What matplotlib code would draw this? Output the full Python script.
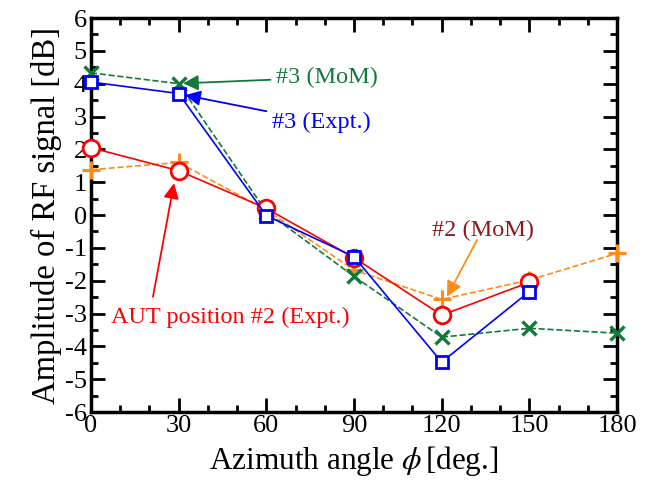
import numpy as np
import matplotlib
matplotlib.use("Agg")
import matplotlib.pyplot as plt
from matplotlib.ticker import MultipleLocator

plt.rcParams['font.family'] = ['Liberation Serif', 'DejaVu Serif']
plt.rcParams['mathtext.fontset'] = 'stix'
plt.rcParams['axes.unicode_minus'] = False

phi = [0, 30, 60, 90, 120, 150, 180]
expt2 = [2.05, 1.35, 0.2, -1.3, -3.05, -2.05]
mom2 = [1.38, 1.6, 0.15, -1.68, -2.57, -1.98, -1.17]
expt3 = [4.05, 3.7, -0.02, -1.27, -4.48, -2.33]
mom3 = [4.33, 4.0, 0.1, -1.87, -3.72, -3.45, -3.6]

red = '#ff0000'
blue = '#0000ff'
green = '#117a3a'
orange = '#ff8c1a'

fig = plt.figure(figsize=(6.53, 4.87), dpi=100)
ax = fig.add_axes([0.1394, 0.154, 0.8055, 0.809])

ax.plot(phi, mom2, '--', color=orange, lw=1.2, marker='+', ms=13, mew=2.2, clip_on=False, zorder=3)
ax.plot(phi, mom3, '--', color=green, lw=1.2, marker='x', ms=10, mew=2.4, clip_on=False, zorder=3)
ax.plot(phi[:6], expt2, '-', color=red, lw=1.2, marker='o', ms=12, mfc='white', mew=2, clip_on=False, zorder=4)
ax.plot(phi[:6], expt3, '-', color=blue, lw=1.2, marker='s', ms=8, mfc='white', mew=2, clip_on=False, zorder=5)

ax.set_xlim(0, 180)
ax.set_ylim(-6, 6)
ax.xaxis.set_major_locator(MultipleLocator(30))
ax.xaxis.set_minor_locator(MultipleLocator(10))
ax.yaxis.set_major_locator(MultipleLocator(1))
ax.yaxis.set_minor_locator(MultipleLocator(0.5))
ax.tick_params(which='both', direction='in', top=True, right=True, width=2, labelsize=19)
ax.tick_params(which='major', length=10)
ax.tick_params(which='minor', length=5)
ax.tick_params(axis='x', pad=2)
ax.tick_params(axis='y', pad=3)
for s in ax.spines.values():
    s.set_linewidth(2.5)

ax.set_xlabel(r'Azimuth angle $\phi\,$[deg.]', fontsize=22.5, labelpad=5)
ax.set_ylabel('Amplitude of RF signal [dB]', fontsize=23.5, labelpad=2)

arr = dict(arrowstyle='-|>', mutation_scale=23, lw=1.3, shrinkA=0, shrinkB=0)
ax.annotate('#3 (MoM)', xy=(31.5, 4.01), xytext=(63.3, 4.19), color=green, fontsize=17.5,
            va='center', ha='left', arrowprops=dict(arr, color=green, shrinkA=2))
ax.annotate('#3 (Expt.)', xy=(32.2, 3.65), xytext=(61.9, 2.83), color=blue, fontsize=17.5,
            va='center', ha='left', arrowprops=dict(arr, color=blue, shrinkA=2))
ax.annotate('', xy=(121.8, -2.49), xytext=(132.1, -0.76),
            arrowprops=dict(arr, color=orange))
ax.text(134, -0.46, '#2 (MoM)', color='#8b1a1a', fontsize=17.5, ha='center', va='center')
ax.annotate('', xy=(28.4, 0.97), xytext=(21.2, -2.49),
            arrowprops=dict(arr, color=red))
ax.text(47.5, -3.13, 'AUT position #2 (Expt.)', color=red, fontsize=17.5, ha='center', va='center')

fig.savefig('out.png', dpi=100)
